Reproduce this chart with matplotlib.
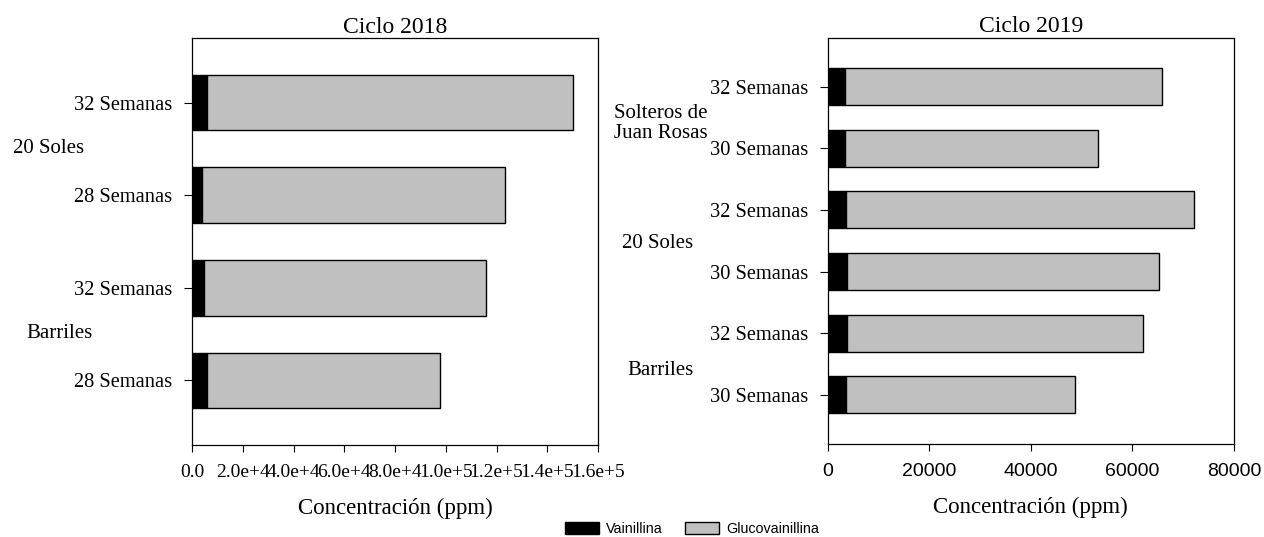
import matplotlib
matplotlib.use("Agg")
import matplotlib.pyplot as plt
import matplotlib.transforms as mtransforms
from matplotlib.patches import Patch

plt.rcParams['font.family'] = ['Liberation Serif', 'DejaVu Serif']

# Ciclo 2018 (bottom to top)
labels_2018 = ["28 Semanas", "32 Semanas", "28 Semanas", "32 Semanas"]
vain_2018 = [6100, 4700, 3900, 6100]
gluco_2018 = [91700, 111100, 119400, 144000]
groups_2018 = [("Barriles", 0.5), ("20 Soles", 2.5)]
xticks_2018 = [0, 20000, 40000, 60000, 80000, 100000, 120000, 140000, 160000]
xticklabels_2018 = ["0.0", "2.0e+4", "4.0e+4", "6.0e+4", "8.0e+4",
                    "1.0e+5", "1.2e+5", "1.4e+5", "1.6e+5"]

# Ciclo 2019 (bottom to top)
labels_2019 = ["30 Semanas", "32 Semanas", "30 Semanas", "32 Semanas",
               "30 Semanas", "32 Semanas"]
vain_2019 = [3600, 3800, 3800, 3600, 3400, 3400]
gluco_2019 = [45200, 58200, 61400, 68500, 49800, 62400]
groups_2019 = [("Barriles", 0.4), ("20 Soles", 2.45), ("Solteros de\nJuan Rosas", 4.4)]
xticks_2019 = [0, 20000, 40000, 60000, 80000]
xticklabels_2019 = ["0", "20000", "40000", "60000", "80000"]

W, H = 1264, 537
fig = plt.figure(figsize=(W / 100, H / 100), dpi=100)

ax1 = fig.add_axes([192 / W, (H - 445) / H, 406 / W, 407 / H])
ax2 = fig.add_axes([827.5 / W, (H - 444) / H, 406.5 / W, 406.5 / H])


def draw(ax, labels, vain, gluco, xticks, xticklabels, xmax, ylim, title,
         groups, group_x, tick_font):
    pos = list(range(len(labels)))
    ax.barh(pos, vain, height=0.6, color="black", edgecolor="black", linewidth=1)
    ax.barh(pos, gluco, left=vain, height=0.6, color="#c0c0c0",
            edgecolor="black", linewidth=1)
    ax.set_xlim(0, xmax)
    ax.set_ylim(*ylim)
    ax.set_yticks(pos)
    ax.set_yticklabels(labels, fontsize=14.7)
    ax.set_xticks(xticks)
    ax.set_xticklabels(xticklabels, fontsize=14, family=tick_font)
    ax.tick_params(axis="y", length=5.5, pad=8.5, width=0.8)
    ax.tick_params(axis="x", length=5, pad=9, width=0.8)
    ax.set_title(title, fontsize=17, pad=1)
    ax.set_xlabel("Concentración (ppm)", fontsize=16.5, labelpad=12)
    for s in ax.spines.values():
        s.set_linewidth(0.9)
    trans = mtransforms.blended_transform_factory(fig.transFigure, ax.transData)
    for (name, y), gx in zip(groups, group_x):
        ax.text(gx / W, y, name, transform=trans, fontsize=15,
                ha="left", va="center", multialignment="left", linespacing=1.05)


draw(ax1, labels_2018, vain_2018, gluco_2018, xticks_2018, xticklabels_2018,
     160000, (-0.7, 3.7), "Ciclo 2018", groups_2018, [26, 13],
     ['Liberation Serif'])
draw(ax2, labels_2019, vain_2019, gluco_2019, xticks_2019, xticklabels_2019,
     80000, (-0.8, 5.8), "Ciclo 2019", groups_2019, [627, 622, 614],
     ['Liberation Sans'])

handles = [Patch(facecolor="black", edgecolor="black", label="Vainillina"),
           Patch(facecolor="#c0c0c0", edgecolor="black", label="Glucovainillina")]
fig.legend(handles=handles, loc="center", bbox_to_anchor=(692 / W, 1 - 529 / H),
           ncol=2, frameon=False, prop={"family": "Liberation Sans", "size": 10.3},
           handlelength=2.4, handleheight=0.9, columnspacing=1.55, handletextpad=0.5,
           borderpad=0)

fig.savefig("out.png", dpi=100)
